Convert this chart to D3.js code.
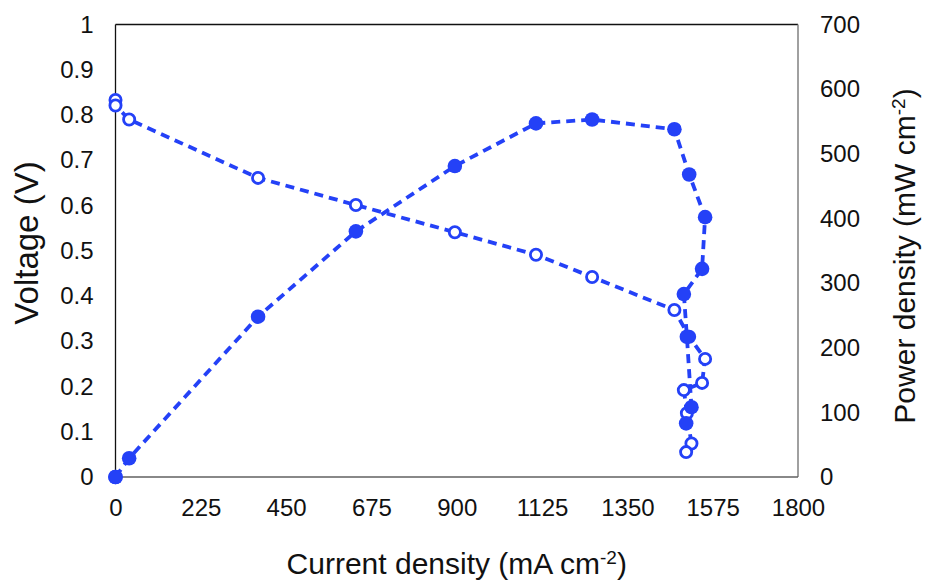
<!DOCTYPE html>
<html lang="en">
<head>
<meta charset="UTF-8">
<title>Voltage and power density vs current density</title>
<style>
  body { margin: 0; background: #fff; overflow: hidden; }
  svg  { display: block; }
  text { font-family: "Liberation Sans", Arial, sans-serif; fill: #111; }
  .axis-title { font-size: 30px; }
</style>
</head>
<body>
<svg id="chart" width="928" height="581"></svg>

<script src="https://d3js.org/d3.v7.min.js"></script>
<script>
// ---- data ----
const current = [0, 0, 36, 376, 634, 895, 1109, 1257, 1474, 1513, 1555, 1547, 1499, 1507, 1519, 1505];   // mA cm-2
const voltage = [0.833, 0.821, 0.790, 0.661, 0.601, 0.541, 0.491, 0.442, 0.369, 0.310, 0.261, 0.208, 0.192, 0.141, 0.074, 0.055];   // V
const power   = [0, 0, 29, 248, 380, 481, 547, 553, 538, 468, 402, 322, 283, 217, 108, 83];   // mW cm-2

const xTicks = [0, 225, 450, 675, 900, 1125, 1350, 1575, 1800];
const vTicks = d3.range(0, 11).map(i => i / 10);
const pTicks = d3.range(0, 701, 100);

// ---- layout ----
const W = 928, H = 581;
const m = { top: 24.5, right: 130, bottom: 104, left: 115.5 };
const blue = '#2441f7';

const svg = d3.select('#chart');

const x  = d3.scaleLinear().domain([0, 1800]).range([m.left, W - m.right]);
const yV = d3.scaleLinear().domain([0, 1]).range([H - m.bottom, m.top]);
const yP = d3.scaleLinear().domain([0, 700]).range([H - m.bottom, m.top]);

/* frame */
const frame = svg.append('g');
frame.append('line').attr('x1', m.left).attr('x2', W - m.right).attr('y1', m.top).attr('y2', m.top)
  .attr('stroke', '#111').attr('stroke-width', 1.3);
frame.append('line').attr('x1', m.left).attr('x2', m.left).attr('y1', m.top).attr('y2', H - m.bottom)
  .attr('stroke', '#111').attr('stroke-width', 1.3);
frame.append('line').attr('x1', W - m.right).attr('x2', W - m.right).attr('y1', m.top).attr('y2', H - m.bottom)
  .attr('stroke', '#808080').attr('stroke-width', 1.5);
frame.append('line').attr('x1', m.left).attr('x2', W - m.right).attr('y1', H - m.bottom).attr('y2', H - m.bottom)
  .attr('stroke', '#606060').attr('stroke-width', 1.5);

/* axes (no tick marks, labels only) */
const fmtV = d => String(+d.toFixed(1));

svg.append('g').attr('transform', `translate(${m.left},0)`)
  .call(d3.axisLeft(yV).tickValues(vTicks).tickFormat(fmtV).tickSize(0).tickPadding(22))
  .call(g => g.select('.domain').remove());

svg.append('g').attr('transform', `translate(${W - m.right},0)`)
  .call(d3.axisRight(yP).tickValues(pTicks).tickSize(0).tickPadding(22))
  .call(g => g.select('.domain').remove());

svg.append('g').attr('transform', `translate(0,${H - m.bottom})`)
  .call(d3.axisBottom(x).tickValues(xTicks).tickFormat(d3.format('d')).tickSize(0).tickPadding(22))
  .call(g => g.select('.domain').remove());

svg.selectAll('.tick text')
  .attr('font-family', '"Liberation Sans", Arial, sans-serif')
  .attr('font-size', 24).attr('fill', '#111');

/* axis titles */
const xt = svg.append('text').attr('class', 'axis-title')
  .attr('x', (m.left + W - m.right) / 2).attr('y', 574).attr('text-anchor', 'middle');
xt.append('tspan').text('Current density (mA cm');
xt.append('tspan').attr('dy', -10).style('font-size', '19px').text('-2');
xt.append('tspan').attr('dy', 10).text(')');

svg.append('text').attr('class', 'axis-title')
  .attr('transform', `translate(38,243) rotate(-90)`)
  .attr('text-anchor', 'middle').style('font-size', '33px').text('Voltage (V)');

const pt = svg.append('text').attr('class', 'axis-title')
  .attr('transform', `translate(915,256) rotate(-90)`)
  .attr('text-anchor', 'middle');
pt.append('tspan').text('Power density (mW cm');
pt.append('tspan').attr('dy', -10).style('font-size', '19px').text('-2');
pt.append('tspan').attr('dy', 10).text(')');

/* series */
const pts = current.map((c, i) => ({ c, v: voltage[i], p: power[i] }));

const lineV = d3.line().x(d => x(d.c)).y(d => yV(d.v));
const lineP = d3.line().x(d => x(d.c)).y(d => yP(d.p));

svg.append('path').datum(pts).attr('d', lineV)
  .attr('fill', 'none').attr('stroke', blue).attr('stroke-width', 3.8).attr('stroke-dasharray', '9,6');
svg.append('path').datum(pts).attr('d', lineP)
  .attr('fill', 'none').attr('stroke', blue).attr('stroke-width', 3.8).attr('stroke-dasharray', '9,6');

svg.append('g').selectAll('circle').data(pts).join('circle')
  .attr('cx', d => x(d.c)).attr('cy', d => yV(d.v)).attr('r', 5.6)
  .attr('fill', '#fff').attr('stroke', blue).attr('stroke-width', 2.8);

svg.append('g').selectAll('circle').data(pts).join('circle')
  .attr('cx', d => x(d.c)).attr('cy', d => yP(d.p)).attr('r', 7.3)
  .attr('fill', blue);
</script>
</body>
</html>
